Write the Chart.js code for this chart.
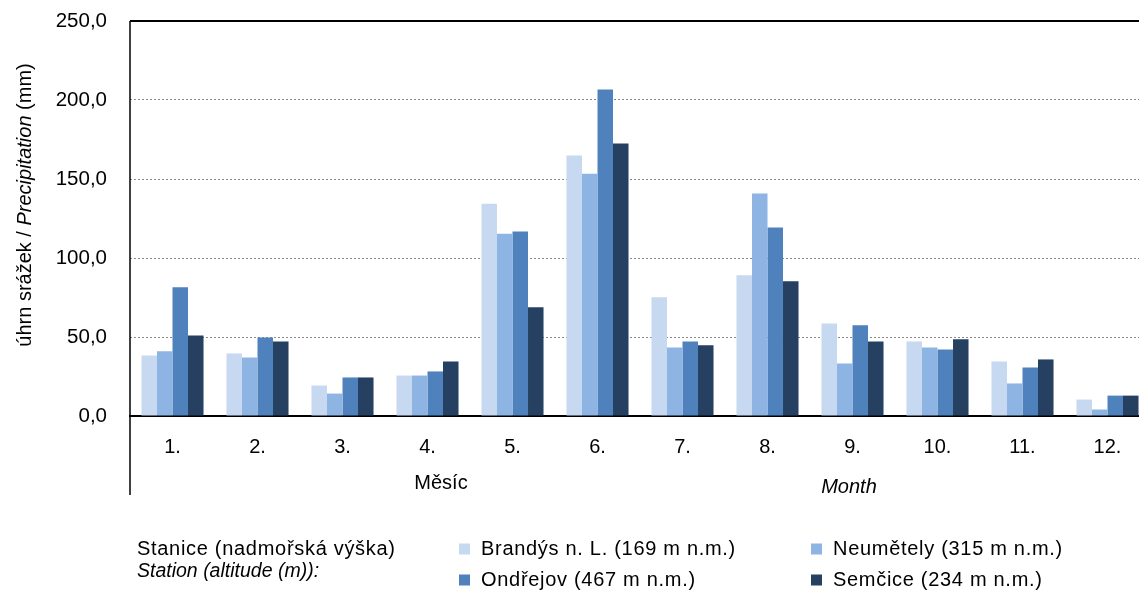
<!DOCTYPE html>
<html>
<head>
<meta charset="utf-8">
<script src="https://cdn.jsdelivr.net/npm/chart.js@4.4.1/dist/chart.umd.min.js"></script>
<style>
html,body{margin:0;padding:0;background:#fff;overflow:hidden;}
#wrap{position:relative;width:1152px;height:592px;}
</style>
</head>
<body>
<div id="wrap"><canvas id="c"></canvas></div>
<script>
const months = ['1.','2.','3.','4.','5.','6.','7.','8.','9.','10.','11.','12.'];
const brandys   = [38.3, 39.6, 19.3, 25.6, 134.3, 164.8, 75.1, 89.1, 58.6, 47.2, 34.5, 10.4];
const neumetely = [41.0, 37.0, 14.2, 25.6, 115.3, 153.4, 43.4, 140.9, 33.2, 43.4, 20.6, 4.1];
const ondrejov  = [81.5, 49.7, 24.4, 28.2, 116.8, 206.7, 47.2, 119.3, 57.4, 42.1, 30.7, 12.9];
const semcice   = [51.0, 47.2, 24.4, 34.5, 68.8, 172.4, 44.7, 85.3, 47.2, 48.5, 35.8, 12.9];
const seriesNames = ['Brandýs n. L. (169 m n.m.)','Neumětely (315 m n.m.)','Ondřejov (467 m n.m.)','Semčice (234 m n.m.)'];
const seriesColors = ['#C6D9F1','#8EB4E3','#4F81BD','#254061'];
const yMin = 0, yMax = 250, yStep = 50;

const FONT = '"Liberation Sans", Arial, sans-serif';

const extras = {
  id: 'extras',
  afterDraw(chart) {
    const ctx = chart.ctx;
    const a = chart.chartArea;
    ctx.save();
    // top border
    ctx.strokeStyle = '#000';
    ctx.lineWidth = 2;
    ctx.beginPath();
    ctx.moveTo(a.left, a.top);
    ctx.lineTo(a.right + 5, a.top);
    ctx.stroke();
    // left axis, extended down
    ctx.lineWidth = 1.5;
    ctx.beginPath();
    ctx.moveTo(a.left, a.top);
    ctx.lineTo(a.left, 495);
    ctx.stroke();

    ctx.fillStyle = '#000';
    ctx.textBaseline = 'middle';
    // y title with mixed styles
    const segs = [
      ['úhrn srážek / ', 'normal'],
      ['Precipitation', 'italic'],
      [' (mm)', 'normal']
    ];
    ctx.save();
    ctx.translate(25, 205);
    ctx.rotate(-Math.PI / 2);
    let total = 0;
    segs.forEach(s => { ctx.font = s[1] + ' 20px ' + FONT; total += ctx.measureText(s[0]).width; });
    let x = -total / 2;
    ctx.textAlign = 'left';
    segs.forEach(s => { ctx.font = s[1] + ' 20px ' + FONT; ctx.fillText(s[0], x, 0); x += ctx.measureText(s[0]).width; });
    ctx.restore();

    // axis titles
    ctx.textAlign = 'center';
    ctx.font = 'normal 20px ' + FONT;
    ctx.fillText('Měsíc', 441, 483);
    ctx.font = 'italic 20px ' + FONT;
    ctx.fillText('Month', 849, 487);

    // legend
    ctx.textAlign = 'left';
    ctx.font = 'normal 20px ' + FONT;
    ctx.letterSpacing = '0.7px';
    ctx.fillText('Stanice (nadmořská výška)', 137, 549);
    ctx.letterSpacing = '0px';
    ctx.font = 'italic 19.5px ' + FONT;
    ctx.fillText('Station (altitude (m)):', 137, 572);

    const pos = [[459, 549], [811, 549], [459, 580], [811, 580]];
    ctx.font = 'normal 20px ' + FONT;
    ctx.letterSpacing = '0.7px';
    seriesNames.forEach((n, i) => {
      const [px, py] = pos[i];
      ctx.fillStyle = seriesColors[i];
      ctx.fillRect(px, py - 5.5, 11, 11);
      ctx.fillStyle = '#000';
      ctx.fillText(n, px + 22, py);
    });
    ctx.letterSpacing = '0px';
    ctx.restore();
  }
};

const data = {
  labels: months,
  datasets: [brandys, neumetely, ondrejov, semcice].map((d, i) => ({
    label: seriesNames[i],
    data: d,
    backgroundColor: seriesColors[i],
    borderWidth: 0
  }))
};

new Chart(document.getElementById('c'), {
  type: 'bar',
  data,
  options: {
    responsive: true,
    maintainAspectRatio: false,
    animation: false,
    devicePixelRatio: 1,
    layout: { padding: { top: 21, right: 2, left: 0, bottom: 0 } },
    datasets: { bar: { categoryPercentage: 0.73, barPercentage: 1.0 } },
    plugins: { legend: { display: false }, tooltip: { enabled: false }, title: { display: false } },
    scales: {
      x: {
        grid: { display: false, drawTicks: false },
        border: { display: true, color: '#000', width: 2 },
        ticks: { color: '#000', font: { family: FONT, size: 20 }, padding: 19, maxRotation: 0, autoSkip: false },
        afterFit(s) { s.height = 176; s.paddingLeft = 0; s.paddingRight = 0; }
      },
      y: {
        min: yMin, max: yMax,
        grid: { color: '#8a8a8a', lineWidth: 1, drawTicks: false },
        border: { display: false, dash: [2, 2] },
        ticks: {
          stepSize: yStep, color: '#000', padding: 23,
          font: { family: FONT, size: 20.5 },
          callback: v => v.toFixed(1).replace('.', ',')
        },
        afterFit(s) { s.width = 130; s.paddingTop = 0; s.paddingBottom = 0; }
      }
    }
  },
  plugins: [extras]
});
</script>
</body>
</html>
